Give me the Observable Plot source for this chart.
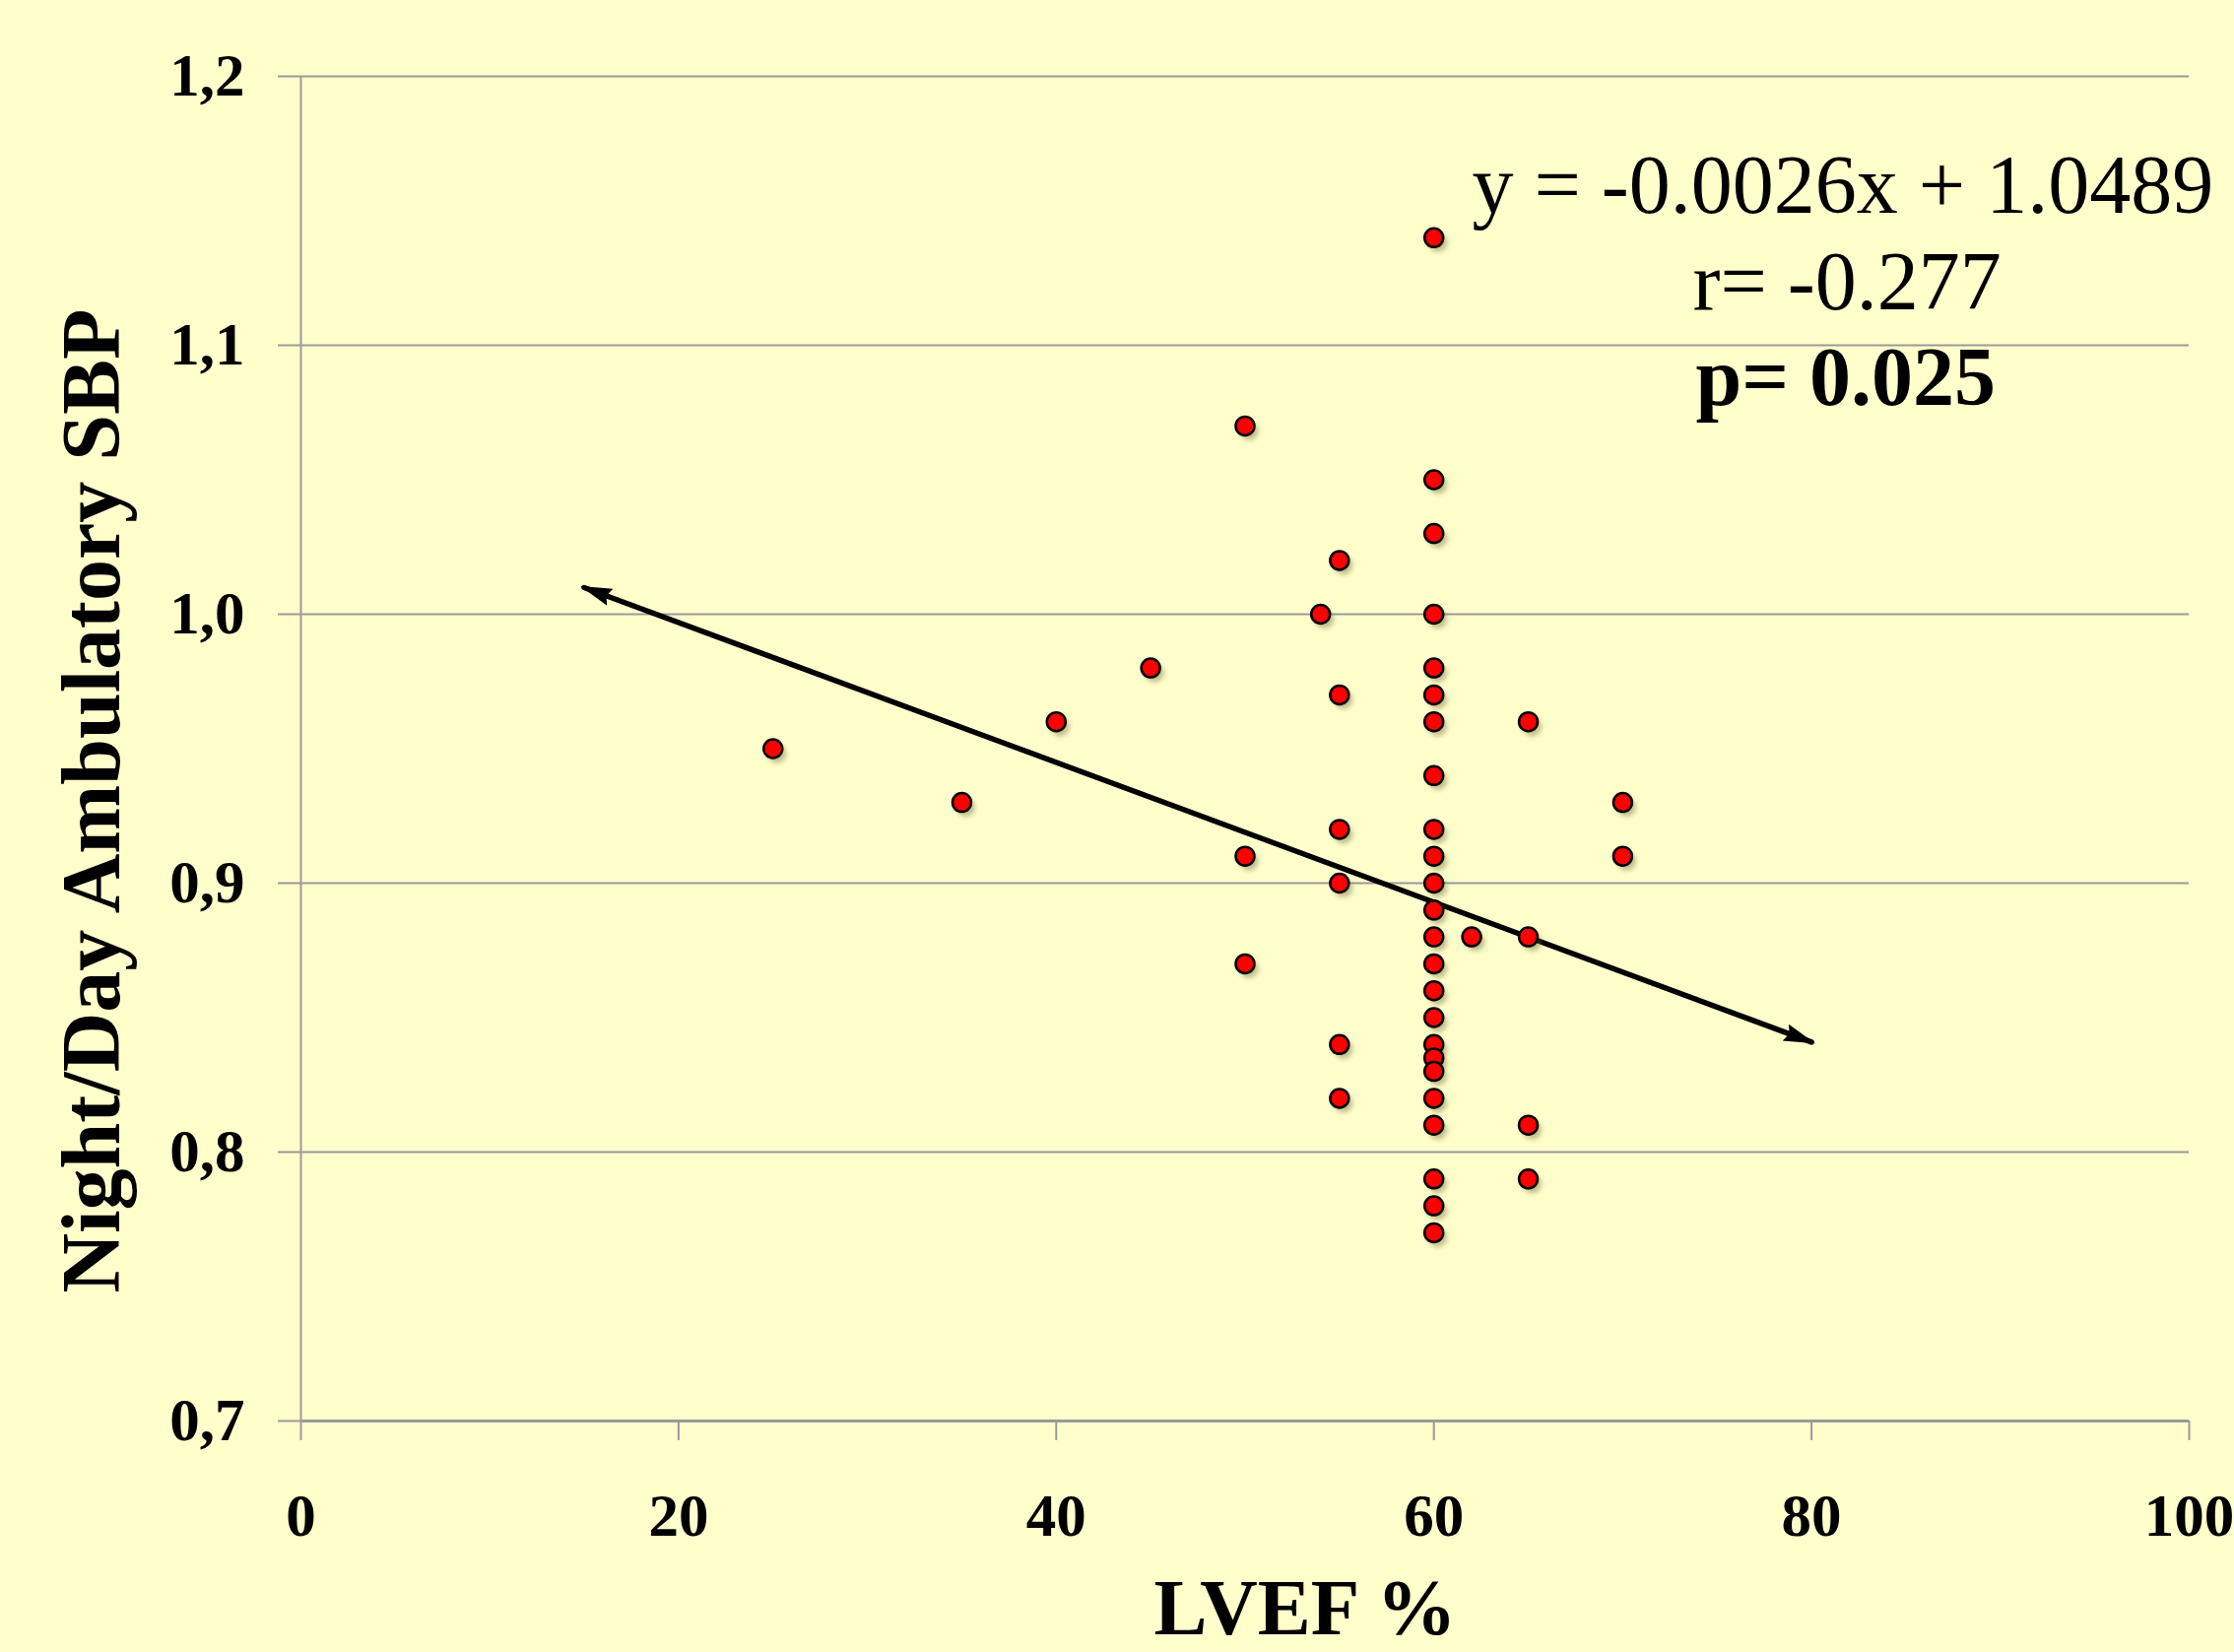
<!DOCTYPE html>
<html>
<head>
<meta charset="utf-8">
<script src="https://cdn.jsdelivr.net/npm/d3@7"></script>
<script src="https://cdn.jsdelivr.net/npm/@observablehq/plot@0.6"></script>
<style>
  html, body { margin: 0; padding: 0; background: #FFFFCC; }
</style>
</head>
<body>
<div id="chart"></div>
<script>
// ---- data ----
const lvef = [
  25, 35, 40, 45,
  50, 50, 50,
  54,
  55, 55, 55, 55, 55, 55,
  60, 60, 60, 60, 60, 60, 60, 60, 60, 60, 60, 60,
  60, 60, 60, 60, 60, 60, 60, 60, 60, 60, 60, 60,
  62,
  65, 65, 65, 65,
  70, 70
];
const nightDaySBP = [
  0.95, 0.93, 0.96, 0.98,
  1.07, 0.91, 0.87,
  1.00,
  1.02, 0.97, 0.92, 0.90, 0.84, 0.82,
  1.14, 1.05, 1.03, 1.00, 0.98, 0.97, 0.96, 0.94, 0.92, 0.91, 0.90, 0.89,
  0.88, 0.87, 0.86, 0.85, 0.84, 0.835, 0.83, 0.82, 0.81, 0.79, 0.78, 0.77,
  0.88,
  0.96, 0.88, 0.81, 0.79,
  0.93, 0.91
];
const xTicks = [0, 20, 40, 60, 80, 100];
const yTicks = [0.7, 0.8, 0.9, 1.0, 1.1, 1.2];
const trendSlope = -0.0026;
const trendIntercept = 1.0489;
const trendRange = [15, 80];
const xTitle = "LVEF %";
const yTitle = "Night/Day Ambulatory SBP";
const equationText = "y = -0.0026x + 1.0489";
const rText = "r= -0.277";
const pText = "p= 0.025";

const points = lvef.map((x, i) => ({x, y: nightDaySBP[i]}));
const trend = trendRange.map(x => ({x, y: trendSlope * x + trendIntercept}));
const fmtY = d => d.toFixed(1).replace(".", ",");

const gridColor = "#9a9a9a";

const chart = Plot.plot({
  width: 2268,
  height: 1677,
  marginLeft: 305,
  marginRight: 46,
  marginTop: 77,
  marginBottom: 235,
  style: {
    background: "#FFFFCC",
    fontFamily: "'Liberation Serif', 'Times New Roman', serif",
    fontSize: "61px",
    fontWeight: "bold",
    color: "black",
    overflow: "visible"
  },
  x: {domain: [0, 100]},
  y: {domain: [0.7, 1.2]},
  marks: [
    Plot.ruleY(yTicks.slice(1), {stroke: gridColor, strokeWidth: 2}),
    Plot.ruleY([yTicks[0]], {stroke: gridColor, strokeWidth: 3}),
    Plot.ruleX([0], {stroke: gridColor, strokeWidth: 2}),
    Plot.axisY({ticks: yTicks, tickFormat: fmtY, tickSize: 23, tickPadding: 34,
      stroke: gridColor, strokeWidth: 2, fill: "black", label: null}),
    Plot.axisX({ticks: xTicks, tickFormat: d => String(d), tickSize: 20, tickPadding: 53,
      stroke: gridColor, strokeWidth: 2, fill: "black", label: null}),
    Plot.text([xTitle], {frameAnchor: "bottom", textAnchor: "middle", lineAnchor: "bottom", dx: 61, dy: 216,
      fontSize: 81, fontWeight: "bold", fill: "black"}),
    Plot.text([yTitle], {frameAnchor: "left", textAnchor: "middle", rotate: -90, lineAnchor: "middle", dx: -211, dy: 53,
      fontSize: 84, fontWeight: "bold", fill: "black"}),
    Plot.line(trend, {x: "x", y: "y", stroke: "black", strokeWidth: 5.5}),
    Plot.dot(points, {x: "x", y: "y", r: 9.5, fill: "#6f6f40", fillOpacity: 0.45, dx: 4, dy: 5}),
    Plot.dot(points, {x: "x", y: "y", r: 9.5, fill: "#ff0000", stroke: "black", strokeWidth: 2.5}),
    Plot.text([equationText], {frameAnchor: "top-left", textAnchor: "start", lineAnchor: "bottom",
      dx: 1189, dy: 138, fontSize: 84, fontWeight: "normal", fill: "black"}),
    Plot.text([rText], {frameAnchor: "top-left", textAnchor: "start", lineAnchor: "bottom",
      dx: 1413, dy: 236, fontSize: 84, fontWeight: "normal", fill: "black"}),
    Plot.text([pText], {frameAnchor: "top-left", textAnchor: "start", lineAnchor: "bottom",
      dx: 1416, dy: 333, fontSize: 84, fontWeight: "bold", fill: "black"})
  ]
});

document.getElementById("chart").appendChild(chart);

const svgEl = chart.tagName.toLowerCase() === "svg" ? chart : chart.querySelector("svg");
const svg = d3.select(svgEl);

// soft shadow under the dots (first dot layer)
svg.selectAll('g[aria-label="dot"]').filter((d, i) => i === 0).style("filter", "blur(2.5px)");

// filled arrowheads on both ends of the regression line
const defs = svg.append("defs");
defs.append("marker")
  .attr("id", "arrowHead")
  .attr("viewBox", "0 -10 32 20")
  .attr("refX", 28)
  .attr("refY", 0)
  .attr("markerWidth", 32)
  .attr("markerHeight", 20)
  .attr("markerUnits", "userSpaceOnUse")
  .attr("orient", "auto-start-reverse")
  .append("path")
  .attr("d", "M0,-9L32,0L0,9L4,0Z")
  .attr("fill", "black")
  .attr("stroke", "none");
svg.selectAll('g[aria-label="line"] path')
  .attr("marker-start", "url(#arrowHead)")
  .attr("marker-end", "url(#arrowHead)");
</script>
</body>
</html>
